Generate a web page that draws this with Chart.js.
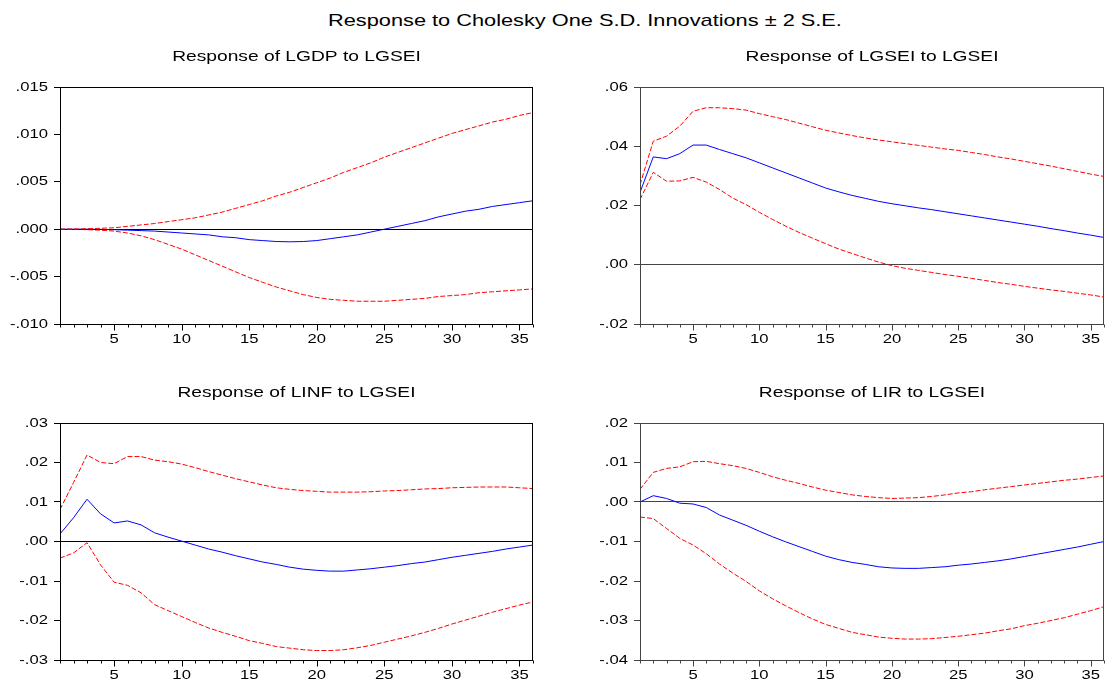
<!DOCTYPE html>
<html>
<head>
<meta charset="utf-8">
<script src="https://cdn.jsdelivr.net/npm/chart.js@4"></script>
<style>
  body { margin: 0; background: #fff; overflow: hidden; }
  #wrap { position: relative; width: 1112px; height: 682px; }
  #mainTitle { position: absolute; left: 328px; top: 11px; font: 17px 'Liberation Sans', Arial, sans-serif; white-space: nowrap; color: #000; transform: scaleX(1.28); transform-origin: 0 0; }
  canvas { position: absolute; }
</style>
</head>
<body>
<div id="wrap">
  <div id="mainTitle">Response to Cholesky One S.D. Innovations ± 2 S.E.</div>
  <canvas id="c1" width="556" height="306" style="left:0;top:40px"></canvas>
  <canvas id="c2" width="556" height="306" style="left:556px;top:40px"></canvas>
  <canvas id="c3" width="556" height="306" style="left:0;top:376px"></canvas>
  <canvas id="c4" width="556" height="306" style="left:556px;top:376px"></canvas>
</div>
<script>
var periods = [1,2,3,4,5,6,7,8,9,10,11,12,13,14,15,16,17,18,19,20,21,22,23,24,25,26,27,28,29,30,31,32,33,34,35,36];

// Response of LGDP to LGSEI
var gdpResp = [0,0,0,-0.00002,-0.00005,-0.0001,-0.00015,-0.0002,-0.0003,-0.0004,-0.0005,-0.0006,-0.0008,-0.0009,-0.0011,-0.0012,-0.0013,-0.00133,-0.0013,-0.0012,-0.001,-0.0008,-0.0006,-0.0003,0,0.0003,0.0006,0.0009,0.0013,0.0016,0.0019,0.0021,0.0024,0.0026,0.0028,0.003];
var gdpUpper = [0,0.00002,0.00005,0.0001,0.00015,0.0003,0.00045,0.0006,0.0008,0.001,0.0012,0.0015,0.0018,0.0022,0.0026,0.003,0.0035,0.0039,0.0044,0.0049,0.0054,0.006,0.0065,0.007,0.0076,0.0081,0.0086,0.0091,0.0096,0.0101,0.0105,0.0109,0.0113,0.0116,0.012,0.0123];
var gdpLower = [0,-0.00002,-0.00005,-0.0001,-0.0002,-0.0004,-0.0007,-0.0011,-0.0016,-0.0021,-0.0027,-0.0033,-0.0039,-0.0045,-0.0051,-0.0056,-0.0061,-0.0065,-0.0069,-0.0072,-0.0074,-0.0075,-0.0076,-0.0076,-0.0076,-0.0075,-0.0074,-0.0073,-0.0071,-0.007,-0.0069,-0.0067,-0.0066,-0.0065,-0.0064,-0.0063];

// Response of LGSEI to LGSEI
var gseiResp = [0.0244,0.0364,0.0358,0.0375,0.0404,0.0404,0.0389,0.0375,0.0361,0.0344,0.0327,0.031,0.0293,0.0276,0.0259,0.0246,0.0234,0.0224,0.0214,0.0206,0.0199,0.0192,0.0186,0.0179,0.0172,0.0165,0.0158,0.0151,0.0144,0.0137,0.013,0.0122,0.0115,0.0107,0.01,0.0092];
var gseiUpper = [0.027,0.0417,0.0434,0.0468,0.0518,0.053,0.053,0.0527,0.0522,0.051,0.05,0.049,0.0478,0.0466,0.0454,0.0445,0.0436,0.0428,0.0421,0.0415,0.0409,0.0403,0.0397,0.0391,0.0386,0.0379,0.0372,0.0364,0.0357,0.0349,0.0341,0.0333,0.0324,0.0315,0.0306,0.0298];
var gseiLower = [0.022,0.0312,0.0282,0.0283,0.0295,0.0279,0.0254,0.0225,0.0203,0.0177,0.0153,0.013,0.0109,0.009,0.0071,0.0053,0.0038,0.0023,0.0009,-0.0003,-0.0012,-0.0019,-0.0026,-0.0033,-0.0039,-0.0046,-0.0053,-0.006,-0.0066,-0.0073,-0.0079,-0.0085,-0.009,-0.0096,-0.0102,-0.0109];

// Response of LINF to LGSEI
var infResp = [0.0019,0.006,0.0107,0.007,0.0047,0.0052,0.0042,0.0022,0.0011,0.0001,-0.0009,-0.0019,-0.0027,-0.0036,-0.0044,-0.0052,-0.0058,-0.0065,-0.007,-0.0073,-0.0075,-0.0075,-0.0072,-0.0069,-0.0065,-0.0061,-0.0056,-0.0052,-0.0046,-0.004,-0.0035,-0.003,-0.0025,-0.0019,-0.0014,-0.0009];
var infUpper = [0.0081,0.0149,0.0219,0.02,0.0197,0.0215,0.0215,0.0206,0.0202,0.0196,0.0187,0.0177,0.0168,0.0159,0.0151,0.0143,0.0136,0.0132,0.0129,0.0127,0.0125,0.0125,0.0125,0.0126,0.0128,0.0129,0.0131,0.0133,0.0134,0.0136,0.0137,0.0138,0.0138,0.0138,0.0136,0.0134];
var infLower = [-0.0042,-0.0029,-0.0003,-0.0059,-0.0103,-0.0111,-0.013,-0.016,-0.0175,-0.019,-0.0205,-0.0219,-0.023,-0.024,-0.0251,-0.0258,-0.0266,-0.027,-0.0274,-0.0276,-0.0276,-0.0274,-0.0269,-0.0263,-0.0255,-0.0247,-0.0239,-0.023,-0.022,-0.0209,-0.0199,-0.0189,-0.0179,-0.017,-0.0161,-0.0153];

// Response of LIR to LGSEI
var irResp = [0,0.0016,0.0009,-0.0003,-0.0005,-0.0014,-0.0033,-0.0046,-0.0059,-0.0074,-0.0088,-0.0101,-0.0113,-0.0125,-0.0137,-0.0146,-0.0153,-0.0158,-0.0164,-0.0167,-0.0168,-0.0168,-0.0166,-0.0164,-0.016,-0.0157,-0.0153,-0.0149,-0.0144,-0.0138,-0.0132,-0.0126,-0.012,-0.0114,-0.0107,-0.01];
var irUpper = [0.0032,0.0075,0.0085,0.0089,0.0102,0.0103,0.0097,0.0092,0.0085,0.0075,0.0064,0.0055,0.0047,0.0038,0.003,0.0024,0.0018,0.0014,0.0011,0.0009,0.001,0.0011,0.0014,0.0018,0.0023,0.0026,0.0031,0.0035,0.0039,0.0043,0.0047,0.0051,0.0055,0.0058,0.0062,0.0066];
var irLower = [-0.0038,-0.0042,-0.0067,-0.0092,-0.0109,-0.0131,-0.0157,-0.018,-0.0201,-0.0225,-0.0245,-0.0263,-0.028,-0.0296,-0.031,-0.032,-0.033,-0.0336,-0.0342,-0.0345,-0.0347,-0.0347,-0.0346,-0.0343,-0.034,-0.0336,-0.0332,-0.0326,-0.0321,-0.0313,-0.0307,-0.03,-0.0293,-0.0284,-0.0275,-0.0265];

Chart.defaults.font.family = "'Liberation Sans', Arial, sans-serif";
Chart.defaults.color = '#000';

// the reference text is stretched sideways, so widen every label about its anchor
var STRETCH = 1.28;

// frame round the plot area and the small/long ticks on the period axis
var framePlugin = {
  id: 'frame',
  beforeDraw: function(chart) {
    var ctx = chart.ctx;
    if (!ctx._wide) {
      var fill = ctx.fillText;
      ctx.fillText = function(txt, x, y) {
        this.save();
        this.translate(x, y);
        this.scale(STRETCH, 1);
        fill.call(this, txt, 0, 0);
        this.restore();
      };
      ctx._wide = true;
    }
  },
  afterDraw: function(chart, args, opts) {
    var ctx = chart.ctx, a = chart.chartArea, x = chart.scales.x;
    var l = Math.round(a.left) + 0.5, r = Math.round(a.right) - 0.5;
    var t = Math.round(a.top) + 0.5, b = Math.round(a.bottom) + 0.5;
    ctx.save();
    ctx.strokeStyle = opts.color;
    ctx.lineWidth = 1;
    ctx.strokeRect(l, t, r - l, b - t);
    ctx.beginPath();
    periods.forEach(function(p) {
      var px = Math.round(x.getPixelForValue(p)) + 0.5;
      ctx.moveTo(px, b);
      ctx.lineTo(px, b + (p % 5 === 0 ? 6 : 3));
    });
    ctx.stroke();
    ctx.restore();
  }
};

function pts(vals) {
  return periods.map(function(p, i) { return {x: p, y: vals[i]}; });
}

function makePanel(id, title, resp, upper, lower, yMin, yMax, yStep, dec, yWidth, padRight, axisColor) {
  new Chart(document.getElementById(id), {
    type: 'line',
    data: {
      datasets: [
        {data: pts(upper), borderColor: '#ff0000', borderWidth: 1, borderDash: [5, 2], pointRadius: 0},
        {data: pts(resp), borderColor: '#0000ff', borderWidth: 1, pointRadius: 0},
        {data: pts(lower), borderColor: '#ff0000', borderWidth: 1, borderDash: [5, 2], pointRadius: 0}
      ]
    },
    options: {
      responsive: false,
      animation: false,
      layout: {padding: {left: 0, right: padRight, top: 0, bottom: 0}},
      plugins: {
        legend: {display: false},
        tooltip: {enabled: false},
        title: {
          display: true,
          text: title,
          fullSize: false,
          color: '#000',
          font: {size: 15, weight: 'normal'},
          padding: {top: 8, bottom: 21}
        },
        frame: {color: axisColor}
      },
      scales: {
        x: {
          type: 'linear',
          min: 1,
          max: 36,
          grid: {display: false, drawTicks: false},
          border: {display: false},
          ticks: {
            stepSize: 1,
            autoSkip: false,
            maxRotation: 0,
            padding: 8,
            font: {size: 13},
            color: '#000',
            callback: function(v) { return v % 5 === 0 ? String(v) : ''; }
          },
          afterFit: function(s) { s.height = 22; }
        },
        y: {
          min: yMin,
          max: yMax,
          grid: {
            color: function(c) { return Math.abs(c.tick.value) < 1e-9 ? axisColor : 'rgba(0,0,0,0)'; },
            tickColor: axisColor,
            tickLength: 6,
            lineWidth: 1
          },
          border: {display: false},
          ticks: {
            stepSize: yStep,
            padding: 6,
            font: {size: 13},
            color: '#000',
            callback: function(v) {
              if (Math.abs(v) < 1e-9) v = 0;
              return v.toFixed(dec).replace(/^(-?)0\./, '$1.');
            }
          },
          afterFit: function(s) { s.width = yWidth; }
        }
      }
    },
    plugins: [framePlugin]
  });
}

makePanel('c1', 'Response of LGDP to LGSEI', gdpResp, gdpUpper, gdpLower, -0.01, 0.015, 0.005, 3, 60, 23, '#000');
makePanel('c2', 'Response of LGSEI to LGSEI', gseiResp, gseiUpper, gseiLower, -0.02, 0.06, 0.02, 2, 84, 1, '#444');
makePanel('c3', 'Response of LINF to LGSEI', infResp, infUpper, infLower, -0.03, 0.03, 0.01, 2, 60, 23, '#000');
makePanel('c4', 'Response of LIR to LGSEI', irResp, irUpper, irLower, -0.04, 0.02, 0.01, 2, 84, 1, '#444');
</script>
</body>
</html>
